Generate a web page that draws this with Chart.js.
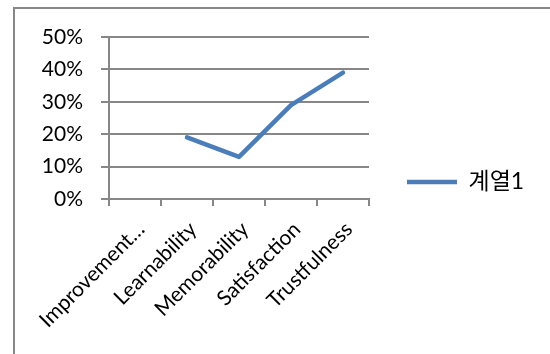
<!DOCTYPE html>
<html>
<head>
<meta charset="utf-8">
<script src="https://cdn.jsdelivr.net/npm/chart.js@4.4.1/dist/chart.umd.min.js"></script>
<style>
html,body{margin:0;padding:0;background:#fff;}
#wrap{width:550px;height:354px;position:relative;}
</style>
</head>
<body>
<div id="wrap"><canvas id="c" width="550" height="354"></canvas></div>
<script>
const categories = ["Improvement…", "Learnability", "Memorability", "Satisfaction", "Trustfulness"];
const seriesName = "계열1";
const seriesValues = [null, 0.19, 0.13, 0.29, 0.39];
const yTicks = [0, 0.1, 0.2, 0.3, 0.4, 0.5];

const GRID = '#878787';
const FONT = "Lato, 'Noto Sans CJK KR', sans-serif";

const framePlugin = {
  id: 'frame',
  beforeDraw(chart) {
    const ctx = chart.ctx;
    ctx.save();
    ctx.fillStyle = '#fff';
    ctx.fillRect(0, 0, chart.width, chart.height);
    ctx.strokeStyle = GRID;
    ctx.lineWidth = 2;
    ctx.strokeRect(14, 8, 700, 500);
    ctx.restore();
  }
};

const legendPlace = {
  id: 'legendPlace',
  beforeLayout(chart) {
    const lg = chart.legend;
    if (lg && !lg._patched) {
      const orig = lg.fit;
      lg.fit = function () { orig.call(this); this.width = 181; };
      lg._patched = true;
    }
  },
  afterLayout(chart) {
    const lg = chart.legend;
    if (!lg) return;
    const h = lg.bottom - lg.top;
    lg.top = 182 - h / 2;
    lg.bottom = 182 + h / 2;
    const pad = lg.options.labels.padding;
    lg.left = 407 - pad;
  }
};

new Chart(document.getElementById('c'), {
  type: 'line',
  data: {
    labels: categories,
    datasets: [{
      label: seriesName,
      data: seriesValues,
      borderColor: '#4A7EBB',
      backgroundColor: '#4A7EBB',
      borderWidth: 4.5,
      borderCapStyle: 'round',
      borderJoinStyle: 'round',
      pointRadius: 0,
      pointHoverRadius: 0,
      tension: 0,
      fill: false
    }]
  },
  options: {
    responsive: false,
    animation: false,
    devicePixelRatio: 1,
    layout: { padding: { top: 37, left: 0, right: 0, bottom: 0 } },
    plugins: {
      tooltip: { enabled: false },
      legend: {
        position: 'right',
        align: 'center',
        labels: {
          usePointStyle: true,
          pointStyle: 'line',
          pointStyleWidth: 50,
          padding: 10,
          color: '#000',
          font: { family: FONT, size: 23 }
        }
      }
    },
    scales: {
      x: {
        type: 'category',
        offset: true,
        grid: {
          offset: true,
          drawOnChartArea: false,
          drawTicks: true,
          tickLength: 7,
          color: GRID,
          lineWidth: 2
        },
        border: { display: true, color: GRID, width: 2 },
        ticks: {
          autoSkip: false,
          minRotation: 45,
          maxRotation: 45,
          color: '#000',
          padding: 11,
          labelOffset: 6,
          font: { family: FONT, size: 21 }
        },
        afterFit(scale) { scale.height = 155; }
      },
      y: {
        min: 0,
        max: 0.5,
        afterBuildTicks(scale) { scale.ticks = yTicks.map(v => ({ value: v })); },
        grid: {
          drawTicks: true,
          tickLength: 8,
          color: GRID,
          lineWidth: 2
        },
        border: { display: true, color: GRID, width: 2 },
        ticks: {
          padding: 18,
          color: '#000',
          font: { family: FONT, size: 21 },
          callback: (v) => Math.round(v * 100) + '%'
        },
        afterFit(scale) { scale.width = 109; }
      }
    }
  },
  plugins: [framePlugin, legendPlace]
});
</script>
</body>
</html>
